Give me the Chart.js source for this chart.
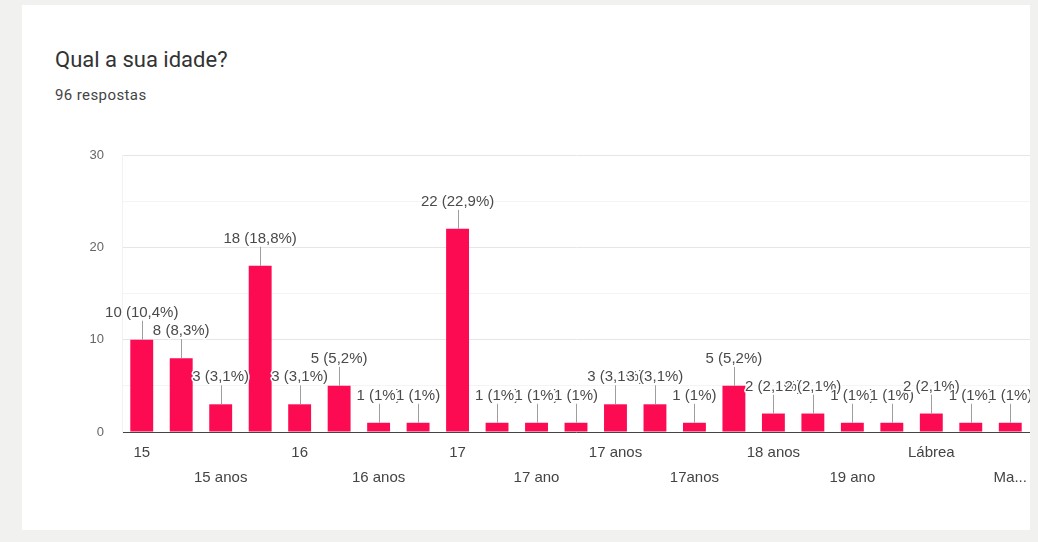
<!DOCTYPE html>
<html>
<head>
<meta charset="utf-8">
<script src="https://cdn.jsdelivr.net/npm/chart.js@4/dist/chart.umd.min.js"></script>
<style>
	body { margin: 0; background: #f1f1f0; width: 1038px; height: 542px; overflow: hidden; }
	#card { position: absolute; left: 22px; top: 5px; width: 1008px; height: 525px; background: #fff; overflow: hidden; }
	#title { position: absolute; left: 33px; top: 42px; font-family: Roboto, sans-serif; font-size: 22px; color: #333; }
	#sub { position: absolute; left: 33px; top: 81px; font-family: Roboto, sans-serif; font-size: 15px; color: #444; letter-spacing: 0.4px; }
	#wrap { position: absolute; left: 38px; top: 135px; width: 970px; height: 370px; }
</style>
</head>
<body>
<div id="card">
	<div id="title">Qual a sua idade?</div>
	<div id="sub">96 respostas</div>
	<div id="wrap"><canvas id="idade_Chart"></canvas></div>
</div>
<script>
// respostas (categorias) e quantidades
var categorias = ['15', '15 ano', '15 anos', '15anos', '16', '16 ano', '16 anos', '16anos',
	'17', '17 ', '17 ano', '17 Anos', '17 anos', '17 anos ', '17anos', '18',
	'18 anos', '19', '19 ano', '19 anos', 'Lábrea', 'Lábrea - AM', 'Manaus - AM'];
var respostas = [10, 8, 3, 18, 3, 5, 1, 1, 22, 1, 1, 1, 3, 3, 1, 5, 2, 2, 1, 1, 2, 1, 1];
var yTicks = [0, 10, 20, 30];

var total = respostas.reduce(function(a, b) { return a + b; }, 0);

function pct(v) {
	var p = Math.round(v / total * 1000) / 10;
	return String(p).replace('.', ',');
}

// rótulos "n (p%)" com haste acima de cada barra
var rotulos = {
	id: 'rotulos',
	afterDatasetsDraw: function(chart) {
		var ctx = chart.ctx;
		var meta = chart.getDatasetMeta(0);
		ctx.save();
		ctx.font = '15px "Liberation Sans", Arial, sans-serif';
		ctx.textAlign = 'center';
		ctx.textBaseline = 'middle';
		meta.data.forEach(function(bar, i) {
			var v = respostas[i];
			var txt = v + ' (' + pct(v) + '%)';
			ctx.strokeStyle = '#9e9e9e';
			ctx.lineWidth = 1;
			ctx.beginPath();
			ctx.moveTo(Math.round(bar.x) + 0.5, bar.y);
			ctx.lineTo(Math.round(bar.x) + 0.5, bar.y - 19);
			ctx.stroke();
			ctx.lineJoin = 'round';
			ctx.strokeStyle = '#fff';
			ctx.lineWidth = 3;
			ctx.strokeText(txt, bar.x, bar.y - 27);
			ctx.fillStyle = '#4a4a4a';
			ctx.fillText(txt, bar.x, bar.y - 27);
		});
		ctx.restore();
	}
};

var context = document.getElementById('idade_Chart').getContext('2d');
var idade_Chart = new Chart(context, {
	type: 'bar',
	data: {
		labels: categorias,
		datasets: [{
			label: 'Qual a sua idade?',
			data: respostas,
			backgroundColor: '#fc0b52',
			barPercentage: 0.58,
			categoryPercentage: 1
		}]
	},
	options: {
		responsive: true,
		maintainAspectRatio: false,
		animation: false,
		layout: { padding: { top: 15, left: 0, right: 0, bottom: 0 } },
		plugins: {
			legend: { display: false },
			tooltip: { enabled: false }
		},
		scales: {
			x: {
				grid: { display: false },
				border: { color: '#444', width: 1 },
				afterFit: function(scale) {
					scale.height = 78;
					scale.paddingLeft = 0;
					scale.paddingRight = 0;
				},
				ticks: {
					autoSkip: false,
					maxRotation: 0,
					padding: 0,
					color: '#444',
					font: { family: '"Liberation Sans", Arial, sans-serif', size: 15, lineHeight: 1.7 },
					callback: function(val, i) {
						var nome = categorias[i];
						if (nome.length > 8) nome = nome.substring(0, 2) + '...';
						if (i % 4 == 0) return nome;
						if (i % 4 == 2) return ['', nome];
						return '';
					}
				}
			},
			y: {
				min: 0,
				max: 30,
				afterFit: function(scale) {
					scale.width = 62;
					scale.paddingTop = 0;
					scale.paddingBottom = 0;
				},
				border: { display: true, color: '#f2f2f2' },
				grid: {
					drawTicks: false,
					color: function(c) {
						return c.tick.value % 10 == 0 ? '#e6e6e6' : '#f4f4f4';
					}
				},
				ticks: {
					stepSize: 5,
					padding: 18,
					color: '#666',
					font: { family: '"Liberation Sans", Arial, sans-serif', size: 13 },
					callback: function(v) {
						return yTicks.indexOf(v) >= 0 ? v : '';
					}
				}
			}
		}
	},
	plugins: [rotulos]
});
</script>
</body>
</html>
